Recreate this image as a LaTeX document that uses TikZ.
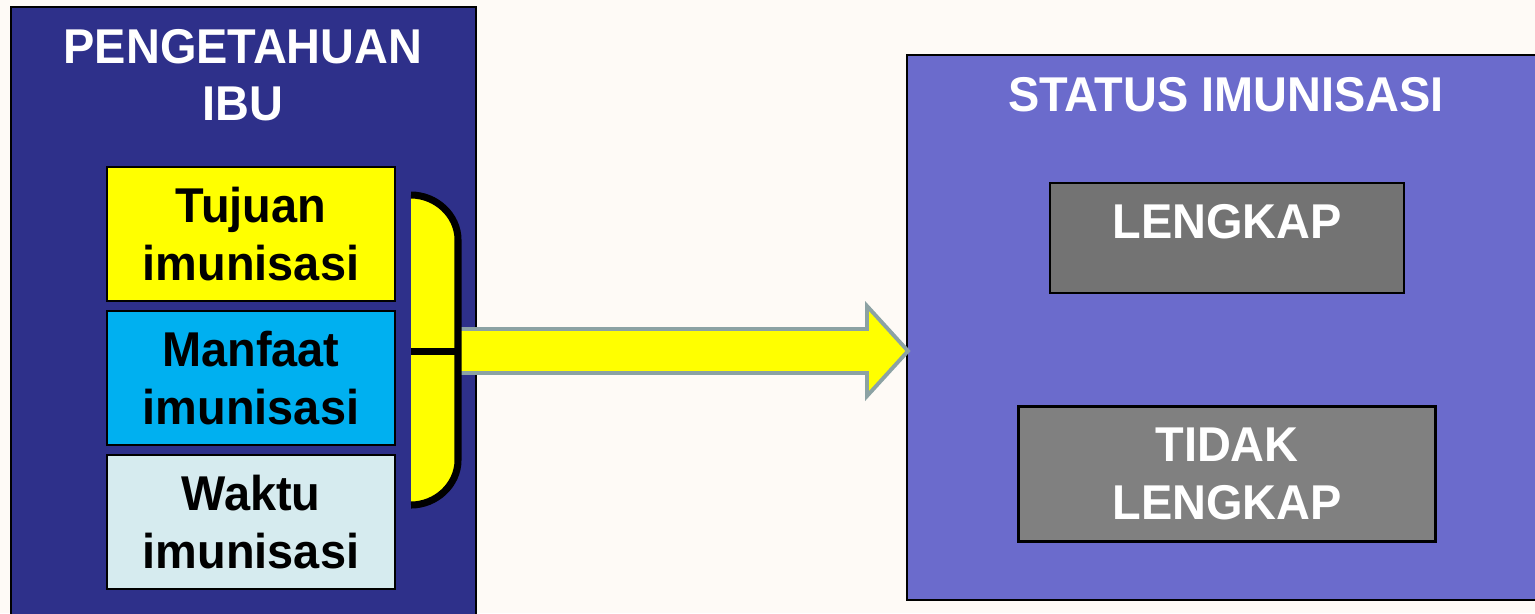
\documentclass[tikz,border=0pt]{standalone}
\usepackage{fontspec}
\setmainfont{Liberation Sans}[FakeStretch=0.96]
\usetikzlibrary{positioning,calc}

\definecolor{paper}{RGB}{254,250,246}
\definecolor{ibunavy}{RGB}{46,48,138}
\definecolor{statusviolet}{RGB}{107,107,204}
\definecolor{tujuanyellow}{RGB}{255,255,0}
\definecolor{manfaatblue}{RGB}{0,176,240}
\definecolor{waktucyan}{RGB}{214,235,239}
\definecolor{lengkapgray}{RGB}{115,115,115}
\definecolor{tidakgray}{RGB}{128,128,128}
\definecolor{arrowedge}{RGB}{140,162,164}

\newcommand\bigtext{\fontsize{13.9}{16.4}\selectfont\bfseries}

\begin{document}
\begin{tikzpicture}[x=0.1mm,y=-0.1mm,
    panel/.style={draw=black,line width=0.6pt,anchor=north west,inner sep=0pt},
    item/.style={draw=black,line width=0.6pt,minimum width=28.8mm,minimum height=13.4mm,
      inner sep=0pt,align=center,font=\bigtext},
    result/.style={draw=black,line width=0.6pt,inner sep=0pt,align=center,
      font=\bigtext,text=white},
    heading/.style={align=center,font=\bigtext,text=white,inner sep=0pt}]
  \useasboundingbox (0,0) rectangle (1535,613);
  \clip (0,0) rectangle (1535,613);
  \fill[paper] (0,0) rectangle (1535,613);

  % left panel
  \node[panel,fill=ibunavy,minimum width=46.5mm,minimum height=64mm] (ibu) at (10,6) {};
  \node[heading] (ibutitle) at (243,75) {PENGETAHUAN\\IBU};
  \foreach \name/\col/\txt [count=\k] in {tujuan/tujuanyellow/Tujuan,
      manfaat/manfaatblue/Manfaat,waktu/waktucyan/Waktu}
    \node[item,fill=\col] (\name) at (251,{234+144*(\k-1)}) {\txt\\imunisasi};

  % right panel
  \node[panel,fill=statusviolet,minimum width=66mm,minimum height=54.5mm] (status) at (906,54) {};
  \node[heading] (statustitle) at (1226,95) {STATUS IMUNISASI};
  \node[result,fill=lengkapgray,minimum width=35.4mm,minimum height=11mm,
    text height=5.5mm,text depth=5.5mm] (lengkap) at (1227,238) {LENGKAP};
  \node[result,fill=tidakgray,minimum width=41.7mm,minimum height=13.5mm]
    (tidak) at (1227,474) {TIDAK\\LENGKAP};

  % bracket + arrow
  \coordinate (brT) at (411,195);
  \coordinate (brB) at (411,505);
  \coordinate (brR) at (458,351);
  \coordinate (tip) at ($(brR -| status.west)+(2,0)$);
  \draw[arrowedge,line width=1.1pt,fill=tujuanyellow,line join=miter]
    ($(brR)+(0,-22)$) -- ($(tip)+(-41,-22)$) -- ($(tip)+(-41,-45)$) -- (tip)
    -- ($(tip)+(-41,45)$) -- ($(tip)+(-41,22)$) -- ($(brR)+(0,22)$) -- cycle;
  \fill[tujuanyellow] (brT) .. controls (436,195) and (458,215) .. (458,240)
    -- (458,460) .. controls (458,485) and (436,505) .. (brB) -- cycle;
  \draw[line width=2pt] (brT) .. controls (436,195) and (458,215) .. (458,240)
    -- (458,460) .. controls (458,485) and (436,505) .. (brB);
  \draw[line width=2pt] (brT |- brR) -- (brR);
\end{tikzpicture}
\end{document}
